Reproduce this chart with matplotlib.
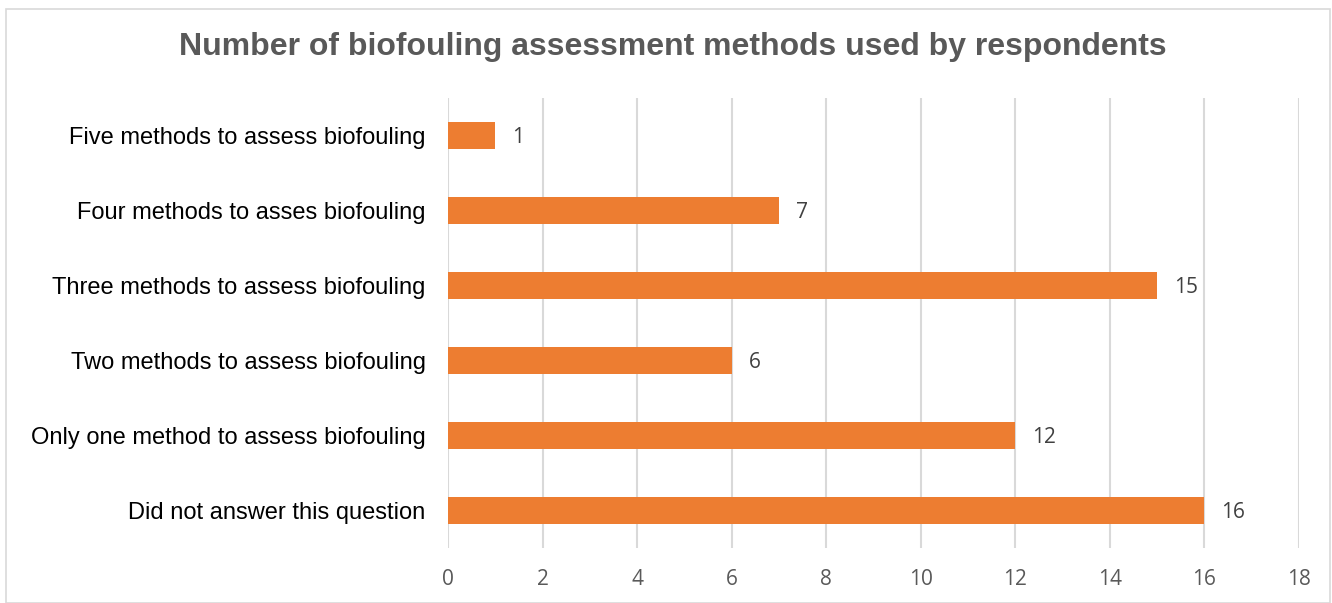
import matplotlib.pyplot as plt
from matplotlib.patches import Rectangle

categories = [
    "Did not answer this question",
    "Only one method to assess biofouling",
    "Two methods to assess biofouling",
    "Three methods to assess biofouling",
    "Four methods to asses biofouling",
    "Five methods to assess biofouling",
]
counts = [16, 12, 6, 15, 7, 1]
x_ticks = list(range(0, 19, 2))

fig = plt.figure(figsize=(13.32, 6.03), dpi=100)
ax = fig.add_axes([0.3363, 0.0904, 0.6389, 0.7463])

# chart border
fig.patches.append(Rectangle((6 / 1332, 0), 1324 / 1332, 1 - 9 / 603,
                             transform=fig.transFigure, fill=False,
                             edgecolor="#d9d9d9", linewidth=1.2))

y = list(range(len(categories)))
ax.barh(y, counts, height=0.36, color="#ED7D31", zorder=3)
for yi, v in zip(y, counts):
    ax.text(v + 0.36, yi - 0.02, str(v), va="center", ha="left",
            fontsize=15, family="Open Sans", color="#404040")

ax.set_xlim(0, 18)
ax.set_ylim(-0.5, len(categories) - 0.5)
ax.set_xticks(x_ticks)
ax.set_yticks(y)
ax.set_yticklabels(categories, family="Liberation Sans", fontsize=17, color="black")
for lbl in ax.get_xticklabels():
    lbl.set_family("Open Sans")
ax.tick_params(axis="x", length=0, pad=15, labelsize=15, labelcolor="#595959")
ax.tick_params(axis="y", length=0, pad=16)
ax.grid(axis="x", color="#d9d9d9", linewidth=1.5, zorder=0)
for s in ax.spines.values():
    s.set_visible(False)

fig.text(673 / 1332, 1 - 47 / 603, "Number of biofouling assessment methods used by respondents",
         ha="center", va="center", fontsize=23, fontweight="bold",
         family="Liberation Sans", color="#595959")

fig.savefig("out.png", dpi=100)
